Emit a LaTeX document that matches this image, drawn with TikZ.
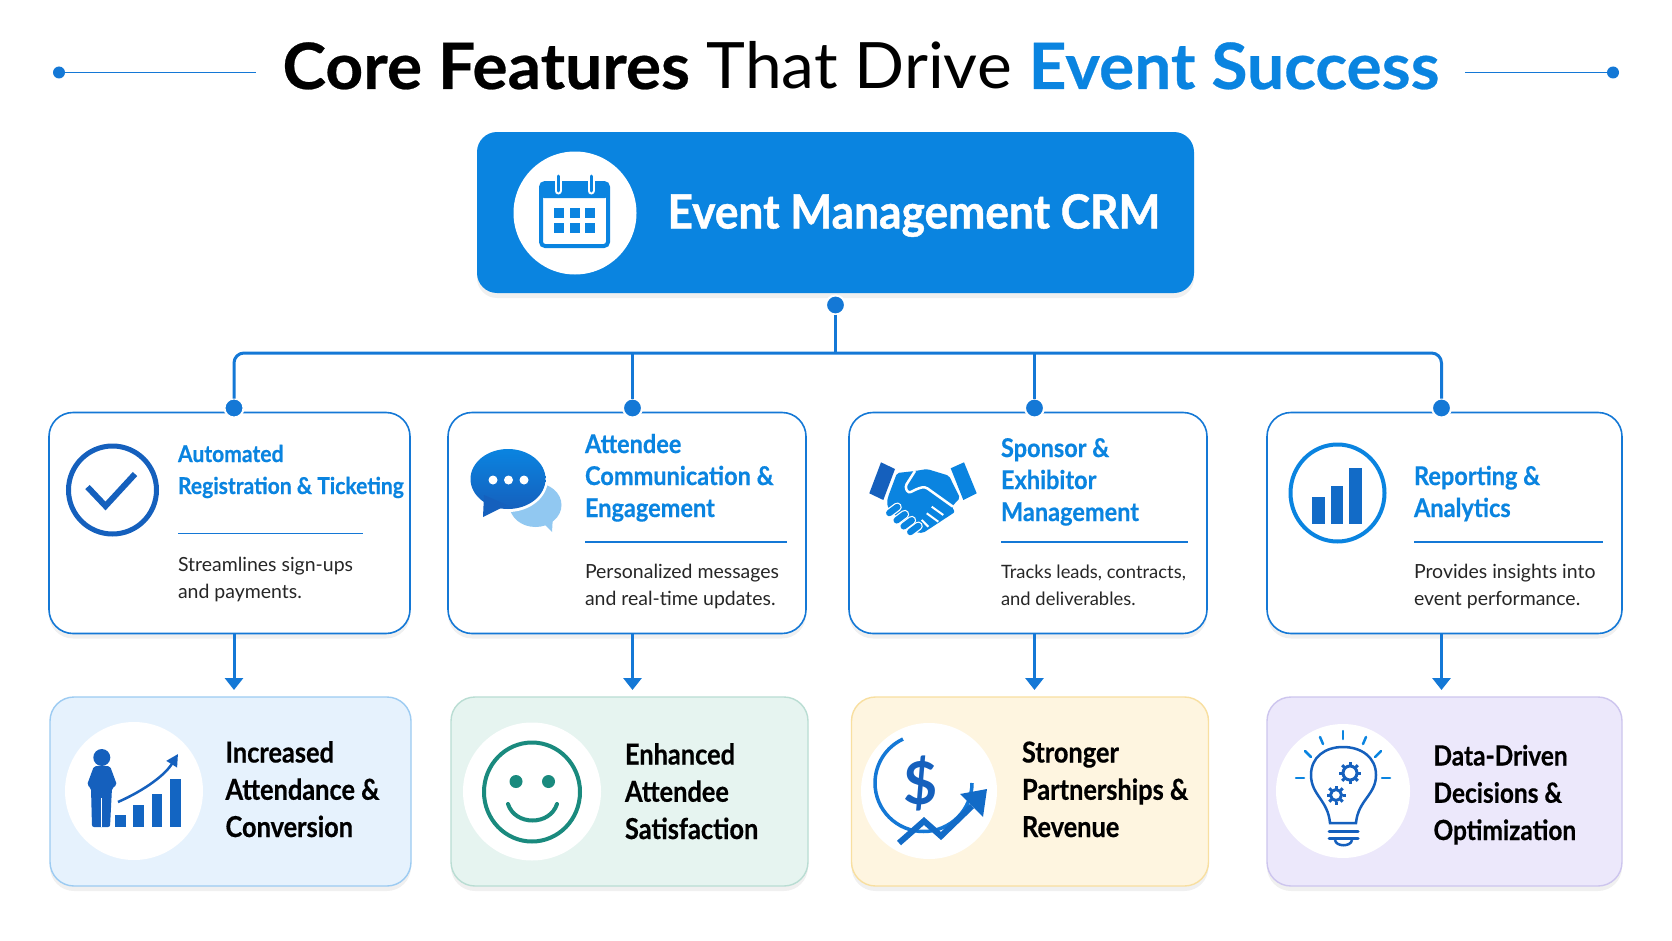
\documentclass[tikz,border=0pt]{standalone}
\usepackage{fontspec}
\setmainfont{Lato}
\newfontfamily\titlefont[FakeStretch=1.03,BoldFeatures={FakeBold=.4}]{Lato}
\newfontfamily\crmfont[FakeStretch=.94,BoldFeatures={FakeBold=1}]{Lato}
\newfontfamily\headfont[FakeStretch=.91,BoldFeatures={FakeBold=.5}]{Lato}
\newfontfamily\resfont[FakeStretch=.88,BoldFeatures={FakeBold=.5}]{Lato}
\usetikzlibrary{arrows.meta,shadows}
\newlength\px
\setlength\px{.05cm}
\definecolor{mainblue}{HTML}{0A84E0}
\definecolor{linkblue}{HTML}{1478D6}
\definecolor{deepblue}{HTML}{1560BD}
\definecolor{teal}{HTML}{1A8A7E}
\definecolor{resblue}{HTML}{E6F2FD}
\definecolor{resblueline}{HTML}{9CCBF2}
\definecolor{resgreen}{HTML}{E6F4F0}
\definecolor{resgreenline}{HTML}{B9DDD3}
\definecolor{resyellow}{HTML}{FEF5E0}
\definecolor{resyellowline}{HTML}{F8DFA0}
\definecolor{respurple}{HTML}{ECE8FB}
\definecolor{respurpleline}{HTML}{CDC5EE}
\begin{document}
\begin{tikzpicture}[x=\px,y=-\px]

  \tikzstyle{every node}=[inner sep=0pt,outer sep=0pt]
  \tikzstyle{soft}=[drop shadow={shadow xshift=0pt,shadow yshift=-5\px,opacity=.06,fill=black}]
  \tikzstyle{card}=[draw=linkblue,line width=1.6\px,fill=white,rounded corners=24\px,soft]
  \tikzstyle{result}=[line width=1.4\px,rounded corners=24\px,soft]
  \tikzstyle{dot}=[circle,fill=linkblue,draw=white,line width=2\px,minimum size=19\px]
  \tikzstyle{disc}=[circle,fill=white]
  \tikzstyle{heading}=[anchor=base west,align=left,text=mainblue,font=\headfont\bfseries\fontsize{33}{45.5}\selectfont]
  \tikzstyle{bigheading}=[heading,font=\headfont\bfseries\fontsize{36.8}{45.5}\selectfont]
  \tikzstyle{blurb}=[anchor=base west,align=left,text=black!85,font=\fontsize{27.7}{38}\selectfont]
  \tikzstyle{outcome}=[anchor=base west,align=left,text=black,font=\resfont\bfseries\fontsize{41}{53}\selectfont]
  \tikzstyle{rule}=[draw=linkblue,line width=1.8\px]
  \tikzstyle{link}=[draw=linkblue,line width=3\px]
  \useasboundingbox[fill=white] (0,0) rectangle (1672,941);

  % title
  \node[anchor=base,font=\titlefont\fontsize{91}{91}\selectfont] (title) at (861,89)
    {\textbf{Core Features} That Drive \textcolor{mainblue}{\textbf{Event Success}}};
  \node[circle,fill=linkblue,minimum size=12\px] (tl) at (59,72.5) {};
  \node[circle,fill=linkblue,minimum size=12\px] (tr) at (1613,72.5) {};
  \coordinate (tla) at (256,72.5);
  \coordinate (tra) at (1465,72.5);
  \draw[linkblue,line width=1.8\px] (tl) -- (tla);
  \draw[linkblue,line width=1.8\px] (tr) -- (tra);

  % boxes
  \node[fill=mainblue,rounded corners=20\px,minimum width=717\px,minimum height=161\px,soft] (crm) at (835.5,212.5) {};
  \node[card,minimum width=361\px,minimum height=221\px] (c1) at (229.5,523) {};
  \node[card,minimum width=358\px,minimum height=221\px] (c2) at (627,523) {};
  \node[card,minimum width=358\px,minimum height=221\px] (c3) at (1028,523) {};
  \node[card,minimum width=355\px,minimum height=221\px] (c4) at (1444.5,523) {};
  \node[result,draw=resblueline,fill=resblue,minimum width=361\px,minimum height=189\px] (r1) at (230.5,791.5) {};
  \node[result,draw=resgreenline,fill=resgreen,minimum width=357\px,minimum height=189\px] (r2) at (629.5,791.5) {};
  \node[result,draw=resyellowline,fill=resyellow,minimum width=357\px,minimum height=189\px] (r3) at (1030,791.5) {};
  \node[result,draw=respurpleline,fill=respurple,minimum width=355\px,minimum height=189\px] (r4) at (1444.5,791.5) {};

  % connectors
  \node[dot] (d0) at (835.5,305) {};
  \node[dot] (d1) at (234,408) {};
  \node[dot] (d2) at (632.5,408) {};
  \node[dot] (d3) at (1034.5,408) {};
  \node[dot] (d4) at (1441.5,408) {};
  \coordinate (bus) at (835.5,353);
  \draw[link] (d0) -- (bus);
  \draw[link,rounded corners=10\px] (d1) |- (bus) -| (d4);
  \draw[link] (d2) -- (d2 |- bus);
  \draw[link] (d3) -- (d3 |- bus);
  \foreach \n in {1,2,3,4}
    \draw[link,-{Triangle[width=.9cm,length=.6cm]},shorten >=7\px] (c\n.south -| d\n) -- (r\n.north -| d\n);

  % top box
  \node[disc,minimum size=123\px] (crmdisc) at (575,213) {};
  \draw[mainblue,fill=white,line width=4\px,rounded corners=4\px] (541,183) rectangle (608,246);
  \fill[mainblue,rounded corners=3\px] (541,183) rectangle (608,198);
  \foreach \x in {558,591} {
    \draw[white,line width=7\px,line cap=round] (\x,177) -- (\x,191);
    \draw[mainblue,line width=3\px,line cap=round] (\x,176) -- (\x,191);
  }
  \foreach \x in {559,574.5,590}
    \foreach \y in {213,228}
      \fill[mainblue] (\x-5,\y-5) rectangle (\x+5,\y+5);
  \node[anchor=base west,text=white,font=\crmfont\bfseries\fontsize{67}{67}\selectfont] (crmtext) at (667.5,228.5) {Event Management CRM};

  % feature texts
  \node[heading] (h1) at (178,494) {Automated\\Registration \& Ticketing};
  \node[bigheading] (h2) at (585,517) {Attendee\\Communication \&\\Engagement};
  \node[bigheading] (h3) at (1001,521) {Sponsor \&\\Exhibitor\\Management};
  \node[bigheading] (h4) at (1414,517) {Reporting \&\\Analytics};
  \node[blurb] (t1) at (178,598) {Streamlines sign-ups\\and payments.};
  \node[blurb] (t2) at (585,605) {Personalized messages\\and real-time updates.};
  \node[blurb,font=\fontsize{26.2}{38}\selectfont] (t3) at (1001,605) {Tracks leads, contracts,\\and deliverables.};
  \node[blurb] (t4) at (1414,605) {Provides insights into\\event performance.};
  \foreach \xa/\xb/\y in {178/363/533.5,585/787/542,1001/1188/542,1414/1603/542}
    \draw[rule] (\xa,\y) -- (\xb,\y);

  % check icon
  \draw[deepblue,line width=5\px] (112.5,490) circle[radius=44\px];
  \draw[deepblue,line width=6\px] (87.5,487) -- (105.5,506) -- (135,474);

  % chat icon
  \fill[mainblue!45] (535.5,505) ellipse[x radius=26\px,y radius=22\px];
  \fill[mainblue!45] (540,520) -- (552,532) -- (553,515) -- cycle;
  \fill[white] (508,479) ellipse[x radius=40\px,y radius=33\px];
  \shade[top color=mainblue,bottom color=deepblue] (508,479) ellipse[x radius=37.5\px,y radius=30\px];
  \fill[deepblue] (484,495) -- (483,517) -- (507,505) -- cycle;
  \foreach \x in {493,508.5,524}
    \fill[white] (\x,480) circle[radius=4.5\px];

  % handshake icon
  \fill[deepblue] (881,462.3) -- (895,469) -- (883.3,500) -- (869.3,493.3) -- cycle;
  \fill[mainblue] (964,462.3) -- (950.7,468.3) -- (963.3,500) -- (976.7,493.3) -- cycle;
  \fill[mainblue,rounded corners=2\px] (897,473) -- (915,471) -- (927,469) -- (949,475.7) -- (960,498)
    -- (951.7,506.7) -- (955,512) -- (923,533) -- (913,532) -- (893,513) -- (888,508) -- (887,502) -- (888,497) -- cycle;
  \draw[white,line width=2.5\px,rounded corners=3\px] (915,471) -- (905,486.7) -- (908.3,493.3) -- (918.3,488.3)
    -- (925,486.7) -- (953,506.7);
  \foreach \xa/\ya/\xb/\yb in {931.7/506.7/943.3/515,926.7/513.3/938.3/521.7,921.7/520/928.3/526.7}
    \draw[white,line width=2\px] (\xa,\ya) -- (\xb,\yb);
  \foreach \x/\y in {893.3/510,900.7/517.3,907.7/523.3,914.3/529} {
    \draw[white,line width=9\px,line cap=round] (\x+4,\y-3) -- (\x-4,\y+3);
    \draw[mainblue,line width=6.5\px,line cap=round] (\x+4,\y-3) -- (\x-4,\y+3);
  }

  % bars icon
  \draw[mainblue,line width=4\px] (1337.5,493) ellipse[x radius=47\px,y radius=48.5\px];
  \foreach \xa/\xb/\y in {1312/1325/497,1331/1343/486,1349/1362/468}
    \fill[deepblue!70!mainblue] (\xa,\y) rectangle (\xb,523.5);

  % results
  \node[disc,minimum size=138\px] (rd1) at (134,791) {};
  \node[disc,minimum size=138\px] (rd2) at (532,791.5) {};
  \node[disc,minimum size=136\px] (rd3) at (929,791) {};
  \node[disc,minimum size=134\px] (rd4) at (1343,791) {};
  \node[outcome] (o1) at (225.5,837) {Increased\\Attendance \&\\Conversion};
  \node[outcome] (o2) at (625,839) {Enhanced\\Attendee\\Satisfaction};
  \node[outcome] (o3) at (1022,837) {Stronger\\Partnerships \&\\Revenue};
  \node[outcome,font=\resfont\bfseries\fontsize{39.5}{53}\selectfont] (o4) at (1433.5,840) {Data-Driven\\Decisions \&\\Optimization};

  % growth icon
  \fill[deepblue] (101.8,757.5) circle[radius=8.5\px];
  \fill[deepblue,rounded corners=2\px] (94,766) -- (110,766) -- (117,785) -- (112,788) -- (110,827)
    -- (92,827) -- (91,788) -- (87,785) -- cycle;
  \draw[white,line width=1\px] (101,798) -- (101,827);
  \foreach \xa/\xb/\y in {115/126/815,133/143.5/805,151.5/162/794,170/180.5/778.7}
    \fill[deepblue!85!mainblue] (\xa,\y) rectangle (\xb,827);
  \draw[deepblue,line width=2.5\px,-{Triangle[width=.6cm,length=.6cm]}] (118,802) .. controls (145,790) and (165,775) .. (178,754);

  % smiley icon
  \draw[teal,line width=4\px] (532,792) ellipse[x radius=48\px,y radius=49.5\px];
  \fill[teal] (516,781.5) circle[radius=6.5\px];
  \fill[teal] (548.5,781.5) circle[radius=6.5\px];
  \draw[teal,line width=4\px,line cap=round] (508,804) .. controls (515,826) and (550,826) .. (557,804);

  % money icon
  \draw[linkblue,line width=3.5\px] (972,783) arc[start angle=0,end angle=-245,radius=48.5\px];
  \node[text=deepblue,font=\bfseries\fontsize{84}{84}\selectfont] (dollar) at (921,783) {\$};
  \draw[deepblue!70!mainblue,line width=6\px,line join=miter] (899,843) -- (924,821) -- (941,836) -- (972,806);
  \fill[deepblue!70!mainblue] (987,789) -- (960,794) -- (983,817) -- cycle;

  % bulb icon
  \draw[deepblue,line width=2.5\px] (1330,823) .. controls (1328,800) and (1311,795) .. (1311,775)
    .. controls (1311,757) and (1325,747) .. (1343,747) .. controls (1361,747) and (1376,757) .. (1376,775)
    .. controls (1376,795) and (1358,800) .. (1356,823) -- cycle;
  \foreach \y in {831,838}
    \draw[deepblue,line width=3\px,line cap=round] (1329,\y) -- (1358,\y);
  \draw[deepblue,line width=2.5\px] (1335,840) .. controls (1336,847) and (1351,847) .. (1352,840);
  \foreach \x/\y/\r in {1350/773/7,1336/795/5.5} {
    \draw[deepblue,line width=3\px] (\x,\y) circle[radius=\r*\px];
    \foreach \a in {0,45,...,315}
      \draw[deepblue,line width=3\px] (\x,\y) ++(\a:\r+1) -- ++(\a:3);
  }
  \foreach \xa/\ya/\xb/\yb in {1343/731/1343/739,1320/737/1323/744,1366/737/1363/744,1305/751/1311/757,1381/751/1375/757,1296/778/1304/778,1382/778/1390/778}
    \draw[mainblue,line width=2.5\px,line cap=round] (\xa,\ya) -- (\xb,\yb);

\end{tikzpicture}
\end{document}
